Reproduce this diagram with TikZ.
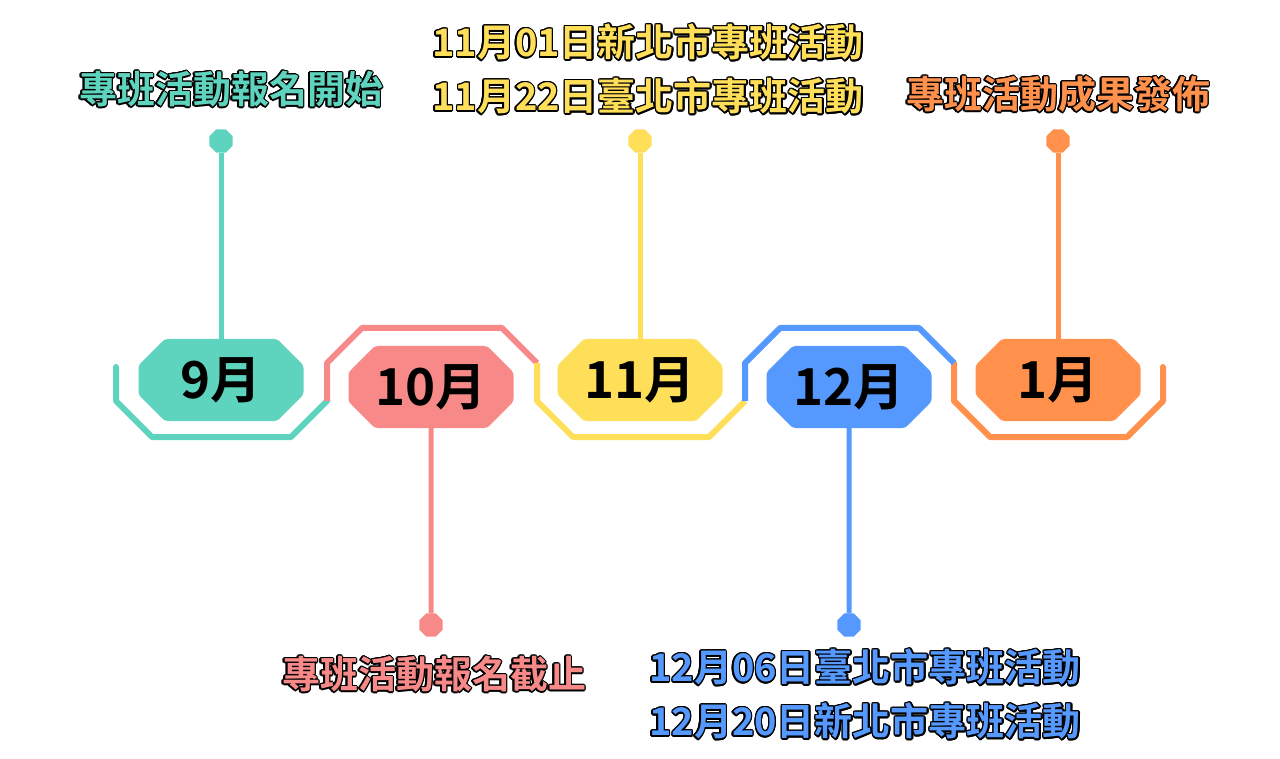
\documentclass[tikz,border=0pt]{standalone}
\usepackage{fontspec}
\usepackage[copies]{contour}
\usetikzlibrary{shapes.misc, shapes.geometric, positioning}
\setmainfont{Noto Sans CJK TC}[BoldFont={Noto Sans CJK TC Bold}]
\definecolor{cSep}{HTML}{5ED3BD}
\definecolor{cOct}{HTML}{F78A89}
\definecolor{cNov}{HTML}{FFDE59}
\definecolor{cDec}{HTML}{5599FF}
\definecolor{cJan}{HTML}{FF914D}
\contourlength{1.4pt}

\begin{document}
\begin{tikzpicture}[
    x=1pt, y=-1pt,
    month/.style={
        chamfered rectangle,
        chamfered rectangle xsep=26pt,
        minimum width=165pt,
        minimum height=82pt,
        inner sep=0pt,
        rounded corners=3pt,
        font=\fontsize{51}{51}\selectfont\bfseries,
        text=black
    },
    pin/.style={
        regular polygon,
        regular polygon sides=8,
        minimum size=25pt,
        inner sep=0pt
    },
    stem/.style={line width=5pt},
    track/.style={line width=6pt, line cap=butt, line join=round},
    event/.style={
        font=\fontsize{38}{54}\selectfont\bfseries,
        align=center
    }
]
\useasboundingbox (0,0) rectangle (1280,759);

% track
\draw[track, cJan, line cap=round] (954,363) -- (954,401) -- (990,437) -- (1127,437) -- (1163,401) -- (1163,367);
\draw[track, cSep, line cap=round] (116,367) -- (116,401) -- (152,437) -- (291,437) -- (327,401);
\draw[track, cOct] (327,401) -- (327,363) -- (362,328) -- (502,328) -- (537,363);
\draw[track, cNov] (537,363) -- (537,401) -- (573,437) -- (709,437) -- (745,401);
\draw[track, cDec] (745,401) -- (745,363) -- (780,328) -- (919,328) -- (954,363);

% months
\node[month, fill=cSep] (sep) at (221,380) {9月};
\node[month, fill=cOct] (oct) at (431,387) {10月};
\node[month, fill=cNov] (nov) at (640,380) {11月};
\node[month, fill=cDec] (dec) at (849,387) {12月};
\node[month, fill=cJan] (jan) at (1058,380) {1月};

% pins
\node[pin, fill=cSep] (pinSep) at (221,141) {};
\node[pin, fill=cOct] (pinOct) at (431,625) {};
\node[pin, fill=cNov] (pinNov) at (640,141) {};
\node[pin, fill=cDec] (pinDec) at (849,625) {};
\node[pin, fill=cJan] (pinJan) at (1058,141) {};

\draw[stem, cSep] (pinSep) -- (sep);
\draw[stem, cOct] (oct) -- (pinOct);
\draw[stem, cNov] (pinNov) -- (nov);
\draw[stem, cDec] (dec) -- (pinDec);
\draw[stem, cJan] (pinJan) -- (jan);

% events
\node[event, text=cSep] (evSep) at (231,90) {\contour{black}{專班活動報名開始}};
\node[event, text=cOct] (evOct) at (434,675) {\contour{black}{專班活動報名截止}};
\node[event, text=cNov] (evNov) at (648,70) {\contour{black}{11月01日新北市專班活動}\\\contour{black}{11月22日臺北市專班活動}};
\node[event, text=cDec] (evDec) at (865,695) {\contour{black}{12月06日臺北市專班活動}\\\contour{black}{12月20日新北市專班活動}};
\node[event, text=cJan] (evJan) at (1058,95) {\contour{black}{專班活動成果發佈}};

\end{tikzpicture}
\end{document}
